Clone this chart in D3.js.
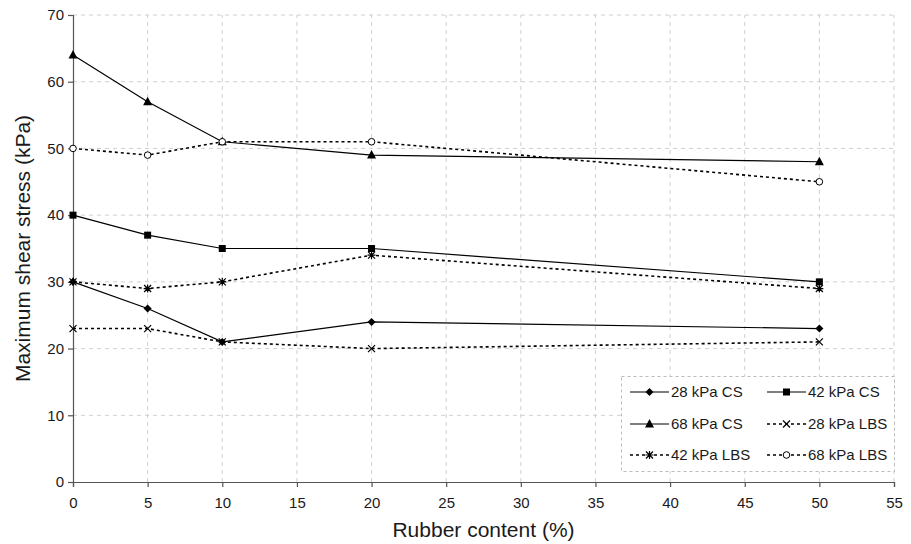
<!DOCTYPE html>
<html>
<head>
<meta charset="utf-8">
<script src="https://cdn.jsdelivr.net/npm/d3@7"></script>
<style>
  body { margin: 0; background: #fff; }
  text { font-family: "Liberation Sans", Arial, sans-serif; fill: #1a1a1a; }
</style>
</head>
<body>
<div id="chart"></div>
<script>
// rubber content (%)
const rubber = [0, 5, 10, 20, 50];

const cs28 = [30, 26, 21, 24, 23];
const cs42 = [40, 37, 35, 35, 30];
const cs68 = [64, 57, 51, 49, 48];
const lbs28 = [23, 23, 21, 20, 21];
const lbs42 = [30, 29, 30, 34, 29];
const lbs68 = [50, 49, 51, 51, 45];

const xTicks = d3.range(0, 56, 5);
const yTicks = d3.range(0, 71, 10);

const series = [
  { name: "28 kPa CS", values: cs28, sym: "diamond", dash: null },
  { name: "42 kPa CS", values: cs42, sym: "square", dash: null },
  { name: "68 kPa CS", values: cs68, sym: "triangle", dash: null },
  { name: "28 kPa LBS", values: lbs28, sym: "cross", dash: "3,3" },
  { name: "42 kPa LBS", values: lbs42, sym: "star", dash: "3,3" },
  { name: "68 kPa LBS", values: lbs68, sym: "circle", dash: "3,3" }
];

const width = 911, height = 544;
const margin = { top: 15, right: 17, bottom: 62, left: 73 };

const svg = d3.select("#chart").append("svg")
  .attr("width", width)
  .attr("height", height);

const x = d3.scaleLinear().domain([0, 55]).range([margin.left, width - margin.right]);
const y = d3.scaleLinear().domain([0, 70]).range([height - margin.bottom, margin.top]);

// grid
svg.append("g")
  .selectAll("line")
  .data(yTicks.filter(d => d > 0))
  .join("line")
  .attr("x1", x(0)).attr("x2", x(55))
  .attr("y1", d => y(d)).attr("y2", d => y(d))
  .attr("stroke", "#cfcfcf")
  .attr("stroke-dasharray", "4,4");

svg.append("g")
  .selectAll("line")
  .data(xTicks.filter(d => d > 0))
  .join("line")
  .attr("x1", d => x(d)).attr("x2", d => x(d))
  .attr("y1", y(0)).attr("y2", y(70))
  .attr("stroke", "#cfcfcf")
  .attr("stroke-dasharray", "4,4");

// axes
const xAxis = svg.append("g")
  .attr("transform", `translate(0,${y(0)})`)
  .call(d3.axisBottom(x).tickValues(xTicks).tickSizeOuter(0).tickSize(5).tickPadding(10));
const yAxis = svg.append("g")
  .attr("transform", `translate(${x(0)},0)`)
  .call(d3.axisLeft(y).tickValues(yTicks).tickSizeOuter(0).tickSize(5).tickPadding(4));

[xAxis, yAxis].forEach(a => {
  a.select(".domain").attr("stroke", "#555").attr("stroke-width", 1.2);
  a.selectAll(".tick line").attr("stroke", "#555").attr("stroke-width", 1.2);
  a.selectAll(".tick text").style("font-size", "15px").attr("fill", "#1a1a1a");
});

svg.append("text")
  .attr("x", (x(0) + x(55)) / 2)
  .attr("y", 537)
  .attr("text-anchor", "middle")
  .style("font-size", "21px")
  .text("Rubber content (%)");

svg.append("text")
  .attr("transform", `translate(30,${(y(0) + y(70)) / 2}) rotate(-90)`)
  .attr("text-anchor", "middle")
  .style("font-size", "21px")
  .text("Maximum shear stress (kPa)");

// markers
function drawSym(g, sym, cx, cy) {
  if (sym === "diamond") {
    g.append("path").attr("d", `M${cx},${cy - 4}L${cx + 4},${cy}L${cx},${cy + 4}L${cx - 4},${cy}Z`).attr("fill", "#000");
  } else if (sym === "square") {
    g.append("rect").attr("x", cx - 3.5).attr("y", cy - 3.5).attr("width", 7).attr("height", 7).attr("fill", "#000");
  } else if (sym === "triangle") {
    g.append("path").attr("d", `M${cx},${cy - 5}L${cx + 4.5},${cy + 3.5}L${cx - 4.5},${cy + 3.5}Z`).attr("fill", "#000");
  } else if (sym === "cross") {
    g.append("path").attr("d", `M${cx - 3.5},${cy - 3.5}L${cx + 3.5},${cy + 3.5}M${cx - 3.5},${cy + 3.5}L${cx + 3.5},${cy - 3.5}`)
      .attr("stroke", "#000").attr("stroke-width", 1.2);
  } else if (sym === "star") {
    g.append("path").attr("d", `M${cx - 3.5},${cy - 3.5}L${cx + 3.5},${cy + 3.5}M${cx - 3.5},${cy + 3.5}L${cx + 3.5},${cy - 3.5}M${cx},${cy - 4}L${cx},${cy + 4}M${cx - 4},${cy}L${cx + 4},${cy}`)
      .attr("stroke", "#000").attr("stroke-width", 1.2);
  } else if (sym === "circle") {
    g.append("circle").attr("cx", cx).attr("cy", cy).attr("r", 3.3)
      .attr("fill", "#fff").attr("stroke", "#000").attr("stroke-width", 1);
  }
}

const line = d3.line().x(d => x(d[0])).y(d => y(d[1]));

const plot = svg.append("g");
series.forEach(s => {
  const pts = rubber.map((r, i) => [r, s.values[i]]);
  plot.append("path")
    .datum(pts)
    .attr("d", line)
    .attr("fill", "none")
    .attr("stroke", "#000")
    .attr("stroke-width", s.dash ? 1.6 : 1.2)
    .attr("stroke-dasharray", s.dash);
});
series.forEach(s => {
  const g = plot.append("g");
  rubber.forEach((r, i) => drawSym(g, s.sym, x(r), y(s.values[i])));
});

// legend
const lg = svg.append("g");
lg.append("rect")
  .attr("x", 621.5).attr("y", 376.5)
  .attr("width", 273).attr("height", 95)
  .attr("fill", "#fff")
  .attr("stroke", "#bbb")
  .attr("stroke-dasharray", "3,3");

const cols = [630, 767];
const rows = [392, 424, 455];
series.forEach((s, i) => {
  const cx = cols[i % 2], cy = rows[Math.floor(i / 2)];
  lg.append("line")
    .attr("x1", cx).attr("x2", cx + 39)
    .attr("y1", cy).attr("y2", cy)
    .attr("stroke", "#000")
    .attr("stroke-width", s.dash ? 1.6 : 1.2)
    .attr("stroke-dasharray", s.dash);
  drawSym(lg, s.sym, cx + 19.5, cy);
  lg.append("text")
    .attr("x", cx + 41)
    .attr("y", cy)
    .attr("dy", "0.35em")
    .style("font-size", "15px")
    .text(s.name);
});
</script>
</body>
</html>
